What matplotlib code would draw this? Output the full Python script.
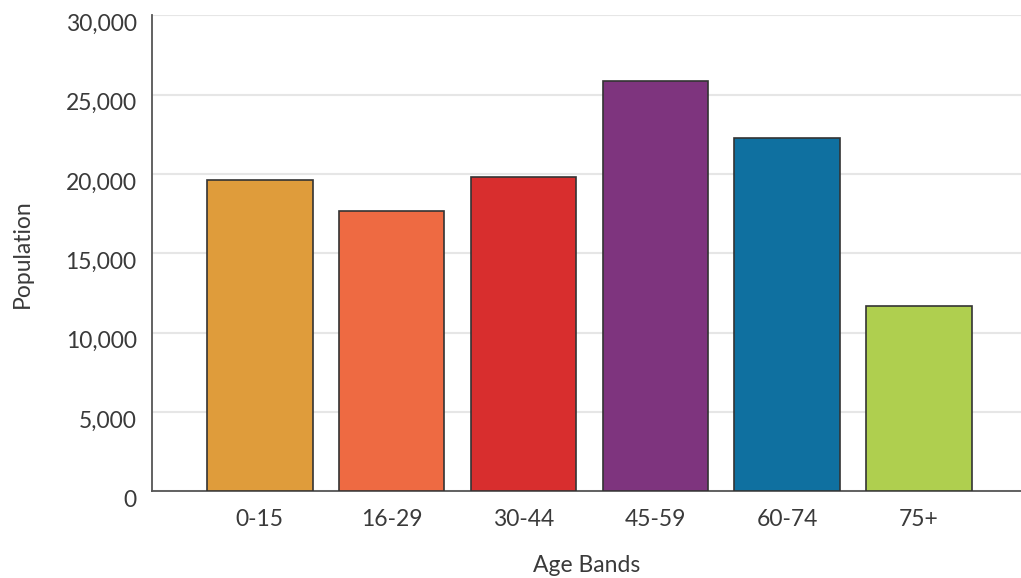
import matplotlib
matplotlib.use("Agg")
import matplotlib.pyplot as plt
from matplotlib.ticker import FuncFormatter
from matplotlib.transforms import ScaledTranslation

# data
age_bands = ["0-15", "16-29", "30-44", "45-59", "60-74", "75+"]
population = [19650, 17650, 19800, 25850, 22250, 11700]
bar_colors = ["#DF9C3B", "#EE6A42", "#D82E2E", "#7E347E", "#0F70A0", "#AFCF4F"]

TEXT = "#3a3a3a"
FS = 16.5

plt.rcParams["font.family"] = ["Lato", "DejaVu Sans"]

fig = plt.figure(figsize=(10.21, 5.78), dpi=100)
ax = fig.add_axes([152 / 1021, 1 - 491.3 / 578, 1 - 152 / 1021, (491.3 - 15.3) / 578])

x = list(range(len(age_bands)))
ax.bar(x, population, width=0.8, color=bar_colors, edgecolor="#333333", linewidth=1.2, zorder=3)

ax.set_ylim(0, 30000)
ax.set_xlim(-0.818, 5.773)
ax.set_yticks(range(0, 30001, 5000))
ax.yaxis.set_major_formatter(FuncFormatter(lambda v, p: f"{int(v):,}"))
ax.set_xticks(x)
ax.set_xticklabels(age_bands)

ax.grid(axis="y", color="#e6e6e6", linewidth=1.5, zorder=0)
ax.set_axisbelow(True)

for side in ["top", "right"]:
    ax.spines[side].set_visible(False)
for side in ["left", "bottom"]:
    ax.spines[side].set_color("#555555")
    ax.spines[side].set_linewidth(1.3)

ax.tick_params(axis="both", length=0, labelsize=FS, colors=TEXT)
ax.tick_params(axis="y", pad=11)
ax.tick_params(axis="x", pad=13)

# y labels sit a little below their gridlines in the original
shift = ScaledTranslation(0, -7 / 100, fig.dpi_scale_trans)
for lab in ax.get_yticklabels():
    lab.set_transform(lab.get_transform() + shift)

ax.set_xlabel("Age Bands", fontsize=FS, color=TEXT, labelpad=18)
ax.set_ylabel("Population", fontsize=FS, color=TEXT)
ax.yaxis.set_label_coords(-0.137, 0.5)

fig.savefig("out.png", dpi=100)
